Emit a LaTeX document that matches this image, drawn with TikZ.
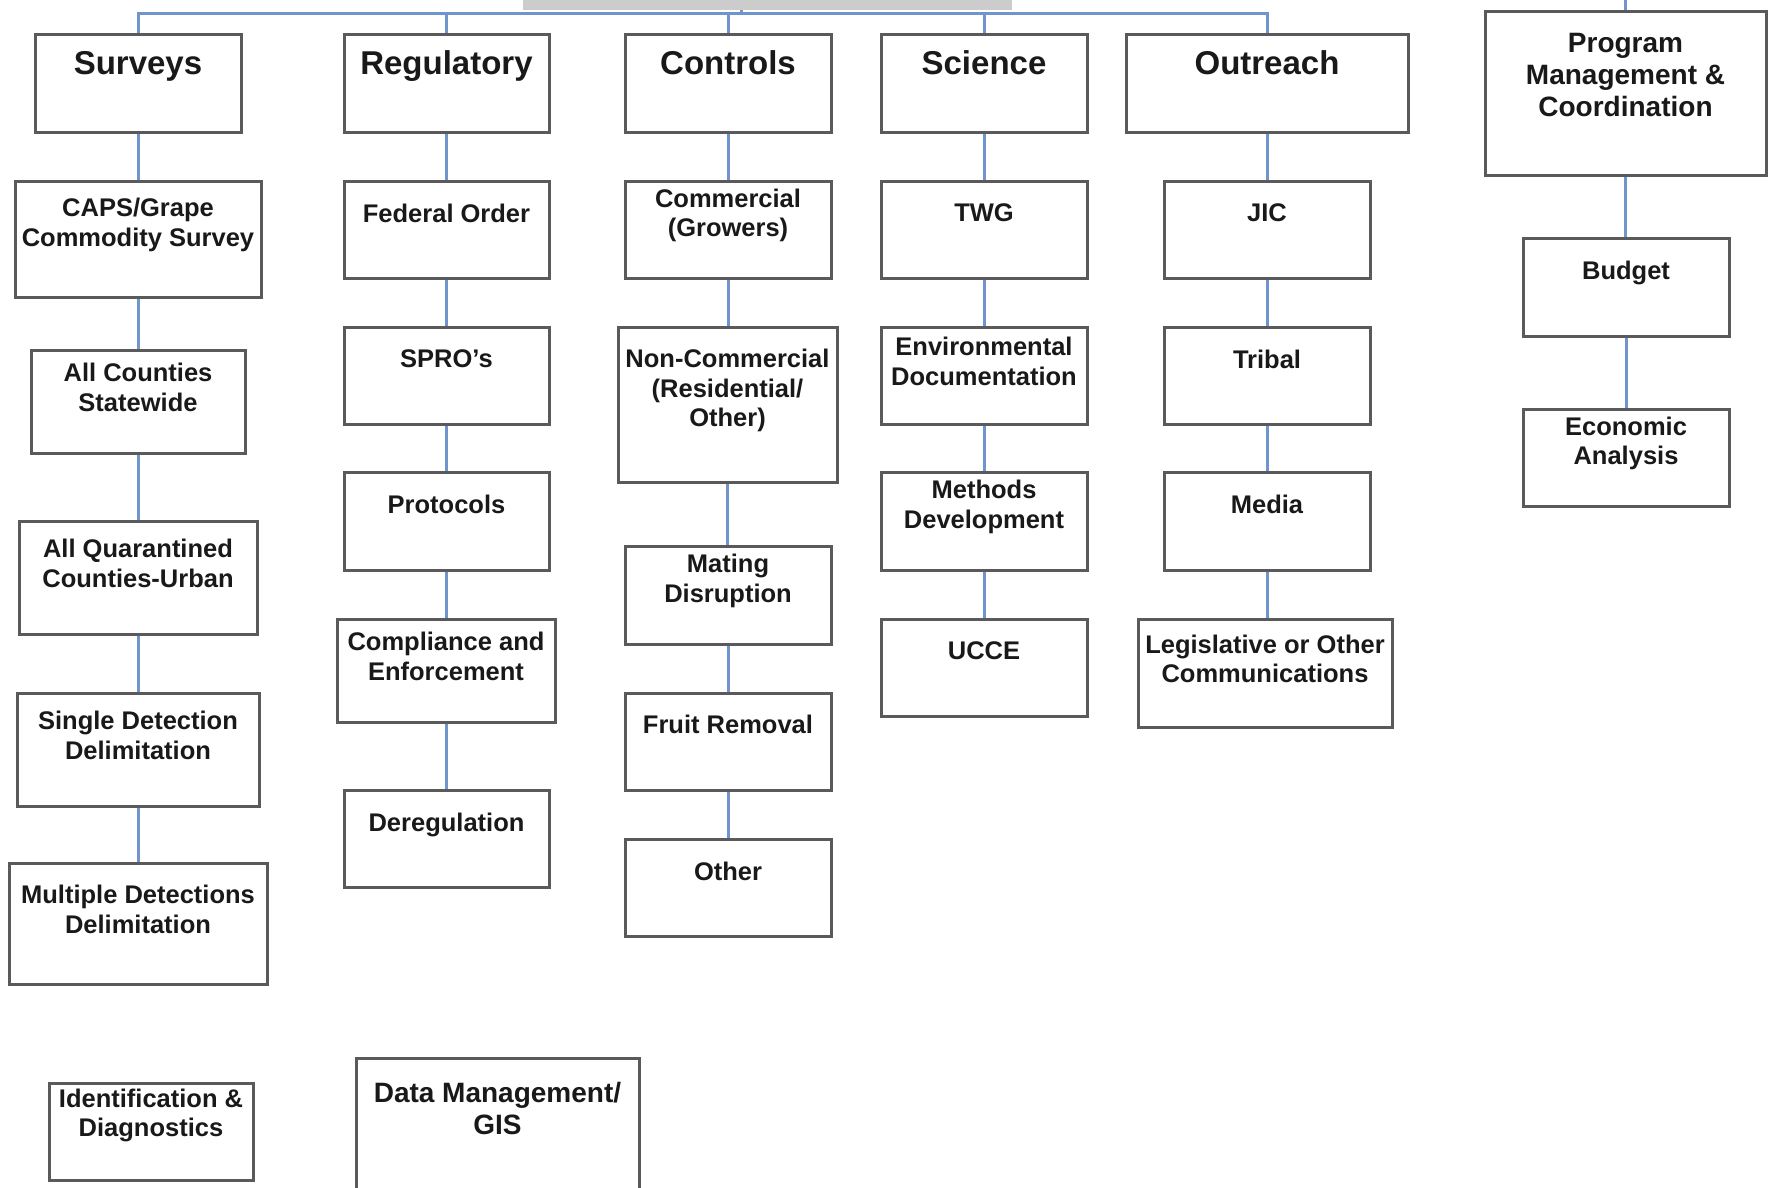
\documentclass[tikz,border=0pt]{standalone}
\usepackage{fontspec}
\setmainfont{Liberation Sans}
\definecolor{boxgray}{RGB}{90,90,90}
\definecolor{connblue}{RGB}{112,148,204}
\definecolor{txt}{RGB}{25,25,25}
\definecolor{rootgray}{RGB}{204,204,204}
\tikzset{
  obox/.style={rectangle, draw=boxgray, line width=3pt, fill=white, inner sep=0pt},
  hdr/.style={font=\fontsize{33}{38}\selectfont\bfseries, text=txt, align=center, inner sep=0pt, text height=24pt, text depth=0pt},
  sub/.style={font=\fontsize{25.5}{29.5}\selectfont\bfseries, text=txt, align=center, inner sep=0pt},
  bigsub/.style={font=\fontsize{28}{32}\selectfont\bfseries, text=txt, align=center, inner sep=0pt},
  conn/.style={draw=connblue, line width=3pt},
}
\newcommand\obox[8][14]{%
  \node[obox, minimum width={(#5)-(#3)}, minimum height={(#6)-(#4)}] (#2) at ({((#3)+(#5))/2},{((#4)+(#6))/2}) {};
  \node[#7] (#2-t) at ([yshift=#1pt]#2.center) {#8};
}
\newcommand\conn[2]{\draw[conn] (#1.south) -- (#1.south |- #2.north);}
\begin{document}
\begin{tikzpicture}[x=1pt,y=-1pt]
\useasboundingbox (0,0) rectangle (1772,1187);
\clip (0,0) rectangle (1772,1187);
\fill[white] (0,0) rectangle (1772,1187);
% root (cut off at top)
\node[rectangle, fill=rootgray, inner sep=0pt, minimum width=489, minimum height=40] (root) at (767.5,-10) {};
\coordinate (rootc) at (741,10);
\coordinate (busL) at (138,13);
\coordinate (ptop) at (1626,-2);
% headers
\obox[21]{surveys}{35}{34}{241}{132}{hdr}{Surveys}
\obox[21]{regulatory}{344}{34}{549}{132}{hdr}{Regulatory}
\obox[21]{controls}{625}{34}{831}{132}{hdr}{Controls}
\obox[21]{science}{881}{34}{1087}{132}{hdr}{Science}
\obox[21]{outreach}{1126}{34}{1408}{132}{hdr}{Outreach}
\obox[18]{program}{1485}{11}{1766}{175}{bigsub}{Program\\Management \&\\Coordination}
% level 2
\obox{caps}{15}{181}{261}{297}{sub}{CAPS/Grape\\Commodity Survey}
\obox[16.5]{federal}{344}{181}{549}{278}{sub}{Federal Order}
\obox{commercial}{625}{181}{831}{278}{sub}{Commercial\\(Growers)}
\obox[16.5]{twg}{881}{181}{1087}{278}{sub}{TWG}
\obox[16.5]{jic}{1164}{181}{1370}{278}{sub}{JIC}
\obox[14]{budget}{1523}{238}{1729}{336}{sub}{Budget}
% level 3
\obox{allcounties}{31}{350}{245}{453}{sub}{All Counties\\Statewide}
\obox[16.5]{spro}{344}{327}{549}{424}{sub}{SPRO’s}
\obox{noncom}{618}{327}{837}{482}{sub}{Non-Commercial\\(Residential/\\Other)}
\obox{envdoc}{881}{327}{1087}{424}{sub}{Environmental\\Documentation}
\obox[16.5]{tribal}{1164}{327}{1370}{424}{sub}{Tribal}
\obox{econ}{1523}{409}{1729}{506}{sub}{Economic\\Analysis}
% level 4
\obox{allquar}{19}{521}{257}{634}{sub}{All Quarantined\\Counties-Urban}
\obox[16.5]{protocols}{344}{472}{549}{570}{sub}{Protocols}
\obox{mating}{625}{546}{831}{644}{sub}{Mating\\Disruption}
\obox{methods}{881}{472}{1087}{570}{sub}{Methods\\Development}
\obox[16.5]{media}{1164}{472}{1370}{570}{sub}{Media}
% level 5
\obox{single}{17}{693}{259}{806}{sub}{Single Detection\\Delimitation}
\obox{compliance}{337}{619}{555}{722}{sub}{Compliance and\\Enforcement}
\obox[17]{fruit}{625}{693}{831}{790}{sub}{Fruit Removal}
\obox[16.5]{ucce}{881}{619}{1087}{716}{sub}{UCCE}
\obox{legis}{1138}{619}{1392}{727}{sub}{Legislative or Other\\Communications}
% level 6
\obox{multiple}{9}{863}{267}{984}{sub}{Multiple Detections\\Delimitation}
\obox[14]{dereg}{344}{790}{549}{887}{sub}{Deregulation}
\obox[16.5]{other}{625}{839}{831}{936}{sub}{Other}
% bottom
\obox[16]{ident}{49}{1083}{253}{1180}{sub}{Identification \&\\Diagnostics}
\obox[20.5]{datamgmt}{356}{1058}{639}{1200}{bigsub}{Data Management/\\GIS}
% connectors
\draw[conn] (rootc) -- (rootc |- busL);
\draw[conn] (surveys.north) -- (surveys.north |- busL) -- (outreach.north |- busL) -- (outreach.north);
\draw[conn] (regulatory.north) -- (regulatory.north |- busL);
\draw[conn] (controls.north) -- (controls.north |- busL);
\draw[conn] (science.north) -- (science.north |- busL);
\draw[conn] (program.north) -- (program.north |- ptop);
\conn{surveys}{caps}
\conn{caps}{allcounties}
\conn{allcounties}{allquar}
\conn{allquar}{single}
\conn{single}{multiple}
\conn{regulatory}{federal}
\conn{federal}{spro}
\conn{spro}{protocols}
\conn{protocols}{compliance}
\conn{compliance}{dereg}
\conn{controls}{commercial}
\conn{commercial}{noncom}
\conn{noncom}{mating}
\conn{mating}{fruit}
\conn{fruit}{other}
\conn{science}{twg}
\conn{twg}{envdoc}
\conn{envdoc}{methods}
\conn{methods}{ucce}
\conn{outreach}{jic}
\conn{jic}{tribal}
\conn{tribal}{media}
\conn{media}{legis}
\conn{program}{budget}
\conn{budget}{econ}
\end{tikzpicture}
\end{document}
